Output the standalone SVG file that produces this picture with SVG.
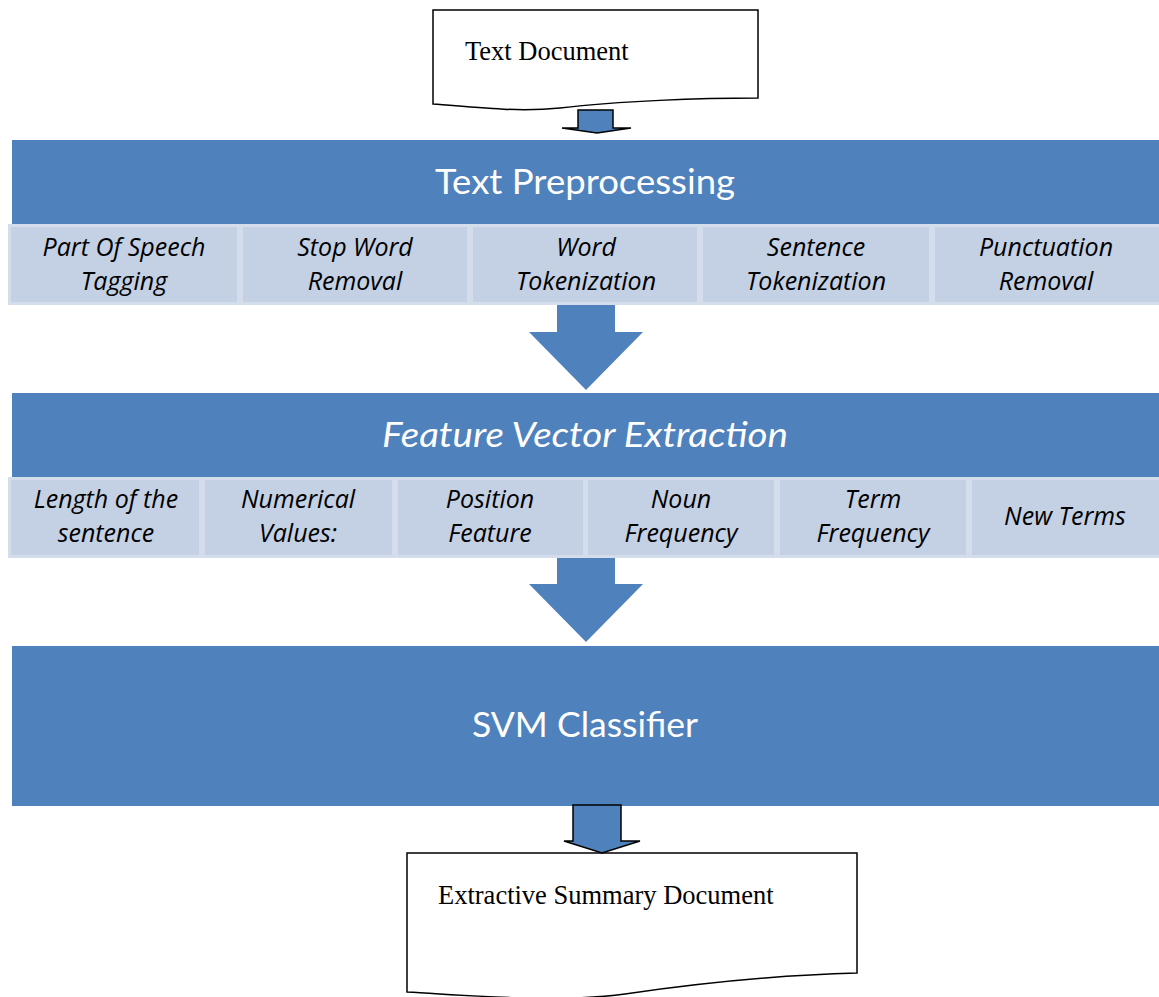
<svg xmlns="http://www.w3.org/2000/svg" width="1159" height="997" viewBox="0 0 1159 997">
  <style>
    .doc { fill: #ffffff; stroke: #000000; stroke-width: 1.5; }
    .doc-text { font-family: "Liberation Serif", "Times New Roman", serif; font-size: 26.5px; fill: #000000; }
    .bar { fill: #4F81BD; }
    .bar-title { font-family: Lato, "Liberation Sans", sans-serif; font-size: 35px; fill: #ffffff; text-anchor: middle; }
    .cell { fill: #C4D0E3; stroke: #D3DDEB; stroke-width: 3; }
    .cell-text { font-family: "Open Sans", "Liberation Sans", sans-serif; font-size: 25px; font-style: italic; fill: #000000; text-anchor: middle; }
    .big-arrow { fill: #4F81BD; }
    .small-arrow { fill: #4F81BD; stroke: #000000; stroke-width: 1.5; stroke-linejoin: miter; }
  </style>

  <!-- input document -->
  <g id="text-document">
    <path class="doc" d="M433,10 H758 V98 C700,98 620,101 560,108 C520,112 480,108 433,104 Z"/>
    <text class="doc-text" x="465" y="60">Text Document</text>
  </g>

  <!-- preprocessing stage -->
  <g id="text-preprocessing">
    <rect class="bar" x="12" y="140" width="1147" height="84"/>
    <text class="bar-title" x="585" y="194" textLength="300" lengthAdjust="spacingAndGlyphs">Text Preprocessing</text>
  </g>
  <g id="pos-tagging">
    <rect class="cell" x="9.5" y="225.5" width="229" height="78"/>
    <text class="cell-text" x="124" y="256">Part Of Speech</text>
    <text class="cell-text" x="124" y="290">Tagging</text>
  </g>
  <g id="stop-word-removal">
    <rect class="cell" x="241.5" y="225.5" width="227" height="78"/>
    <text class="cell-text" x="355" y="256">Stop Word</text>
    <text class="cell-text" x="355" y="290">Removal</text>
  </g>
  <g id="word-tokenization">
    <rect class="cell" x="471.5" y="225.5" width="227" height="78"/>
    <text class="cell-text" x="586" y="256">Word</text>
    <text class="cell-text" x="586" y="290">Tokenization</text>
  </g>
  <g id="sentence-tokenization">
    <rect class="cell" x="701.5" y="225.5" width="229" height="78"/>
    <text class="cell-text" x="816" y="256">Sentence</text>
    <text class="cell-text" x="816" y="290">Tokenization</text>
  </g>
  <g id="punctuation-removal">
    <rect class="cell" x="933.5" y="225.5" width="227" height="78"/>
    <text class="cell-text" x="1046" y="256">Punctuation</text>
    <text class="cell-text" x="1046" y="290">Removal</text>
  </g>

  <!-- feature extraction stage -->
  <g id="feature-vector-extraction">
    <rect class="bar" x="12" y="393" width="1147" height="84"/>
    <text class="bar-title" x="585" y="447" font-style="italic" textLength="406" lengthAdjust="spacingAndGlyphs">Feature Vector Extraction</text>
  </g>
  <g id="sentence-length">
    <rect class="cell" x="9.5" y="478.5" width="191" height="78"/>
    <text class="cell-text" x="106" y="508">Length of the</text>
    <text class="cell-text" x="106" y="542">sentence</text>
  </g>
  <g id="numerical-values">
    <rect class="cell" x="203.5" y="478.5" width="190" height="78"/>
    <text class="cell-text" x="298" y="508">Numerical</text>
    <text class="cell-text" x="298" y="542">Values:</text>
  </g>
  <g id="position-feature">
    <rect class="cell" x="396.5" y="478.5" width="188" height="78"/>
    <text class="cell-text" x="490" y="508">Position</text>
    <text class="cell-text" x="490" y="542">Feature</text>
  </g>
  <g id="noun-frequency">
    <rect class="cell" x="586.5" y="478.5" width="189" height="78"/>
    <text class="cell-text" x="681" y="508">Noun</text>
    <text class="cell-text" x="681" y="542">Frequency</text>
  </g>
  <g id="term-frequency">
    <rect class="cell" x="778.5" y="478.5" width="189" height="78"/>
    <text class="cell-text" x="873" y="508">Term</text>
    <text class="cell-text" x="873" y="542">Frequency</text>
  </g>
  <g id="new-terms">
    <rect class="cell" x="970.5" y="478.5" width="190" height="78"/>
    <text class="cell-text" x="1065" y="525">New Terms</text>
  </g>

  <!-- classifier stage -->
  <g id="svm-classifier">
    <rect class="bar" x="12" y="646" width="1147" height="160"/>
    <text class="bar-title" x="585" y="737" textLength="226" lengthAdjust="spacingAndGlyphs">SVM Classifier</text>
  </g>

  <!-- output document -->
  <g id="summary-document">
    <path class="doc" d="M407,853 H857 V973 C780,975 700,983 625,994 C560,1003 480,996 407,992 Z"/>
    <text class="doc-text" x="438" y="904">Extractive Summary Document</text>
  </g>

  <!-- flow arrows between stages -->
  <g id="connectors">
    <path class="small-arrow" d="M578,110 H613 V128 H631 L597,133 L562,128 H578 Z"/>
    <path class="big-arrow" d="M557,305 H615 V332 H643 L586,390 L529,332 H557 Z"/>
    <path class="big-arrow" d="M557,558 H615 V584 H643 L586,642 L529,584 H557 Z"/>
    <path class="small-arrow" d="M573,805 H621 V841 H640 L602,853 L564,841 H573 Z"/>
  </g>
</svg>
